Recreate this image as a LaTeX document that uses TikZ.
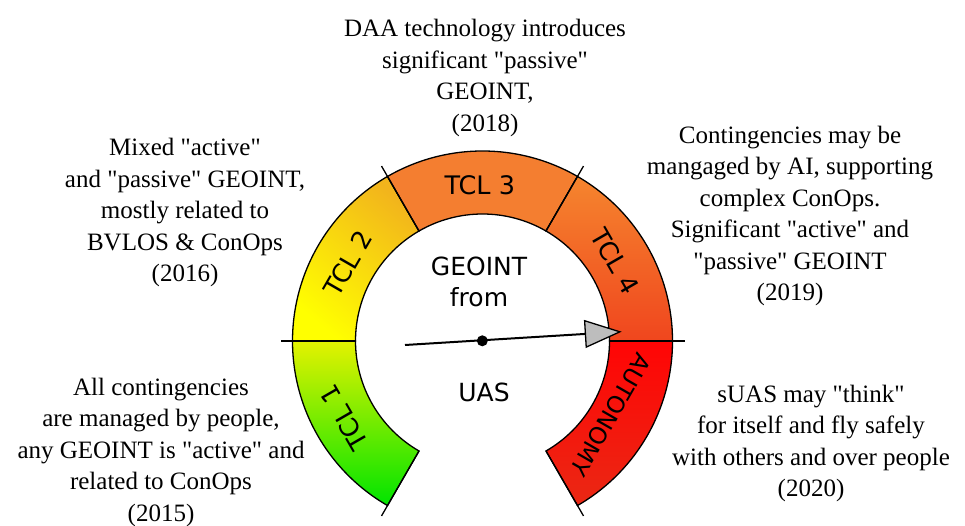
\documentclass[tikz,border=0pt]{standalone}
\usepackage{fontspec}
\setmainfont{Liberation Serif}[Ligatures=TeXOff]
\newfontfamily\gsans{DejaVu Sans}
\usetikzlibrary{arrows.meta,calc}
\definecolor{gA}{HTML}{E4F200}
\definecolor{gB}{HTML}{00E400}
\definecolor{yA}{HTML}{FFFF00}
\definecolor{yB}{HTML}{F2B41C}
\definecolor{oA}{HTML}{F47E30}
\definecolor{oB}{HTML}{F5852E}
\definecolor{oC}{HTML}{F0461E}
\definecolor{rA}{HTML}{FF0505}
\definecolor{rB}{HTML}{EA2814}
\definecolor{ngray}{HTML}{BDBDBD}
\begin{document}
\begin{tikzpicture}[x=1pt,y=1pt,
  desc/.style={align=center,font=\fontsize{25}{31.5}\selectfont,inner sep=0pt},
  seglabel/.style={font=\gsans\fontsize{25.5}{28}\selectfont,inner sep=0pt},
  inlabel/.style={font=\gsans\fontsize{25}{28}\selectfont,inner sep=0pt,anchor=base},
  outline/.style={draw=black,line width=1.3pt},
  tickline/.style={draw=black,line width=1.3pt},
]
\useasboundingbox (0,0) rectangle (965,525);
\fill[white] (0,0) rectangle (965,525);
\coordinate (c) at (482.5,184);
% sectors
\shadedraw[outline,top color=gA,middle color=gA!45!gB,bottom color=gB]
  ($(c)+(180:190)$) arc[start angle=180,end angle=240,radius=190]
  -- ($(c)+(240:127)$) arc[start angle=240,end angle=180,radius=127] -- cycle;
\shadedraw[outline,top color=yB,middle color=yA,bottom color=yA,shading angle=-40]
  ($(c)+(120:190)$) arc[start angle=120,end angle=180,radius=190]
  -- ($(c)+(180:127)$) arc[start angle=180,end angle=120,radius=127] -- cycle;
\filldraw[outline,fill=oA]
  ($(c)+(60:190)$) arc[start angle=60,end angle=120,radius=190]
  -- ($(c)+(120:127)$) arc[start angle=120,end angle=60,radius=127] -- cycle;
\shadedraw[outline,top color=oB,bottom color=oC]
  ($(c)+(0:190)$) arc[start angle=0,end angle=60,radius=190]
  -- ($(c)+(60:127)$) arc[start angle=60,end angle=0,radius=127] -- cycle;
\shadedraw[outline,top color=rA,bottom color=rB]
  ($(c)+(300:190)$) arc[start angle=300,end angle=360,radius=190]
  -- ($(c)+(0:127)$) arc[start angle=0,end angle=-60,radius=127] -- cycle;
% ticks
\foreach \a in {0,60,120,180,240,300}{
  \draw[tickline] ($(c)+(\a:127)$) -- ($(c)+(\a:202)$);
}
% segment labels
\node[seglabel,rotate=120] (l1) at ($(c)+(209:158)$) {TCL 1};
\node[seglabel,rotate=60] (l2) at ($(c)+(150:155)$) {TCL 2};
\node[seglabel] (l3) at ($(c)+(91:156)$) {TCL 3};
\node[seglabel,rotate=-60] (l4) at ($(c)+(31:155)$) {TCL 4};
\node[seglabel,font=\gsans\fontsize{23.5}{28}\selectfont,rotate=-120] (l5) at ($(c)+(330:148)$) {AUTONOMY};
% inner labels
\node[inlabel] (geo) at (479,249) {GEOINT};
\node[inlabel] (from) at (479,218.3) {from};
\node[inlabel] (uas) at (484,123.3) {UAS};
% needle
\coordinate (ns) at (405,180);
\coordinate (nt) at (621.7,193.3);
\draw[line width=2pt,-{Triangle[length=37pt,width=28pt,fill=ngray,line width=1.3pt]}] (ns) -- (nt);
\node[circle,fill=black,inner sep=0pt,minimum size=11pt] (pv) at (482.3,184.2) {};
% descriptions
\node[desc] (tdaa) at (485,447.2) {DAA technology introduces\\significant "passive"\\GEOINT,\\(2018)};
\node[desc] (tmix) at (185,312.2) {Mixed "active"\\and "passive" GEOINT,\\mostly related to\\BVLOS \& ConOps\\(2016)};
\node[desc] (tcon) at (790,308.9) {Contingencies may be\\mangaged by AI, supporting\\complex ConOps.\\Significant "active" and\\"passive" GEOINT\\(2019)};
\node[desc] (tall) at (161,72.7) {All contingencies\\are managed by people,\\any GEOINT is "active" and\\related to ConOps\\(2015)};
\node[desc] (tsuas) at (811,81.4) {sUAS may "think"\\for itself and fly safely\\with others and over people\\(2020)};
\end{tikzpicture}
\end{document}
